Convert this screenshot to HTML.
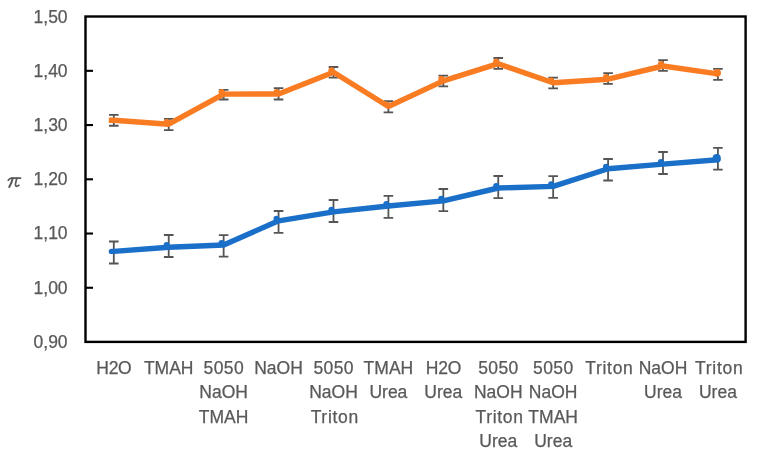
<!DOCTYPE html>
<html><head><meta charset="utf-8"><style>
html,body{margin:0;padding:0;background:#fff;}
body{width:758px;height:463px;overflow:hidden;}
svg{display:block;will-change:transform;}
.t{font-family:"Liberation Sans",sans-serif;font-size:17.5px;fill:#595959;stroke:#595959;stroke-width:0.25px;}
.pi{font-family:"Liberation Serif",serif;font-style:italic;font-size:25px;fill:#595959;}
</style></head><body>
<svg width="758" height="463" viewBox="0 0 758 463">
<rect width="758" height="463" fill="#fff"/>
<line x1="85.5" y1="70.83" x2="93" y2="70.83" stroke="#000" stroke-width="2.1"/>
<line x1="85.5" y1="125.07" x2="93" y2="125.07" stroke="#000" stroke-width="2.1"/>
<line x1="85.5" y1="179.30" x2="93" y2="179.30" stroke="#000" stroke-width="2.1"/>
<line x1="85.5" y1="233.53" x2="93" y2="233.53" stroke="#000" stroke-width="2.1"/>
<line x1="85.5" y1="287.77" x2="93" y2="287.77" stroke="#000" stroke-width="2.1"/>
<rect x="85.5" y="16.5" width="660.10" height="325.40" fill="none" stroke="#000" stroke-width="2.4"/>
<path d="M113.80 241.50V263.50M109.00 241.50H118.60M109.00 263.50H118.60M168.72 235.00V257.00M163.92 235.00H173.52M163.92 257.00H173.52M223.64 235.10V256.70M218.84 235.10H228.44M218.84 256.70H228.44M278.56 211.00V232.80M273.76 211.00H283.36M273.76 232.80H283.36M333.48 200.00V222.00M328.68 200.00H338.28M328.68 222.00H338.28M388.40 195.80V217.80M383.60 195.80H393.20M383.60 217.80H393.20M443.32 189.00V211.10M438.52 189.00H448.12M438.52 211.10H448.12M498.24 176.00V198.10M493.44 176.00H503.04M493.44 198.10H503.04M553.16 176.10V197.90M548.36 176.10H557.96M548.36 197.90H557.96M608.08 159.00V180.50M603.28 159.00H612.88M603.28 180.50H612.88M663.00 152.00V174.00M658.20 152.00H667.80M658.20 174.00H667.80M717.92 147.90V169.70M713.12 147.90H722.72M713.12 169.70H722.72" stroke="#555555" stroke-width="1.8" fill="none"/>
<path d="M111.40 251.40 L113.80 251.40 L168.72 247.20 L223.64 245.00 L278.56 220.80 L333.48 211.90 L388.40 206.00 L443.32 200.90 L498.24 188.00 L553.16 186.40 L608.08 168.80 L663.00 164.10 L717.92 159.80" stroke="#1A6FC8" stroke-width="5.4" fill="none" stroke-linejoin="round" stroke-linecap="round"/>
<circle cx="166.72" cy="245.20" r="3.1" fill="#1A6FC8"/>
<circle cx="221.64" cy="243.00" r="3.1" fill="#1A6FC8"/>
<circle cx="276.56" cy="218.80" r="3.1" fill="#1A6FC8"/>
<circle cx="331.48" cy="209.90" r="3.1" fill="#1A6FC8"/>
<circle cx="386.40" cy="204.00" r="3.1" fill="#1A6FC8"/>
<circle cx="441.32" cy="198.90" r="3.1" fill="#1A6FC8"/>
<circle cx="496.24" cy="186.00" r="3.1" fill="#1A6FC8"/>
<circle cx="551.16" cy="184.40" r="3.1" fill="#1A6FC8"/>
<circle cx="606.08" cy="166.80" r="3.1" fill="#1A6FC8"/>
<circle cx="661.00" cy="162.10" r="3.1" fill="#1A6FC8"/>
<circle cx="716.72" cy="158.20" r="4.1" fill="#1A6FC8"/>
<path d="M113.80 114.85V125.75M109.00 114.85H118.60M109.00 125.75H118.60M168.72 118.80V130.05M163.92 118.80H173.52M163.92 130.05H173.52M223.64 89.90V99.50M218.84 89.90H228.44M218.84 99.50H228.44M278.56 88.20V99.50M273.76 88.20H283.36M273.76 99.50H283.36M333.48 67.00V77.70M328.68 67.00H338.28M328.68 77.70H338.28M388.40 101.10V112.30M383.60 101.10H393.20M383.60 112.30H393.20M443.32 75.55V86.35M438.52 75.55H448.12M438.52 86.35H448.12M498.24 58.00V68.80M493.44 58.00H503.04M493.44 68.80H503.04M553.16 77.55V88.35M548.36 77.55H557.96M548.36 88.35H557.96M608.08 73.10V83.90M603.28 73.10H612.88M603.28 83.90H612.88M663.00 60.10V70.90M658.20 60.10H667.80M658.20 70.90H667.80M717.92 68.90V79.80M713.12 68.90H722.72M713.12 79.80H722.72" stroke="#555555" stroke-width="1.8" fill="none"/>
<path d="M108.80 120.20 L113.80 120.20 L168.72 124.20 L223.64 94.10 L278.56 94.00 L333.48 72.30 L388.40 106.50 L443.32 80.90 L498.24 63.70 L553.16 82.70 L608.08 79.20 L663.00 66.00 L717.92 73.80" stroke="#F97B22" stroke-width="5.4" fill="none" stroke-linejoin="round" stroke-linecap="butt"/>
<circle cx="166.72" cy="122.20" r="3.1" fill="#F97B22"/>
<circle cx="221.64" cy="92.10" r="3.1" fill="#F97B22"/>
<circle cx="276.56" cy="92.00" r="3.1" fill="#F97B22"/>
<circle cx="331.48" cy="70.30" r="3.1" fill="#F97B22"/>
<circle cx="386.40" cy="104.50" r="3.1" fill="#F97B22"/>
<circle cx="441.32" cy="78.90" r="3.1" fill="#F97B22"/>
<circle cx="496.24" cy="61.70" r="3.1" fill="#F97B22"/>
<circle cx="551.16" cy="80.70" r="3.1" fill="#F97B22"/>
<circle cx="606.08" cy="77.20" r="3.1" fill="#F97B22"/>
<circle cx="661.00" cy="64.00" r="3.1" fill="#F97B22"/>
<circle cx="717.12" cy="72.80" r="3.9" fill="#F97B22"/>
<text x="67.6" y="22.50" text-anchor="end" class="t">1,50</text>
<text x="67.6" y="76.73" text-anchor="end" class="t">1,40</text>
<text x="67.6" y="130.97" text-anchor="end" class="t">1,30</text>
<text x="67.6" y="185.20" text-anchor="end" class="t">1,20</text>
<text x="67.6" y="239.43" text-anchor="end" class="t">1,10</text>
<text x="67.6" y="293.67" text-anchor="end" class="t">1,00</text>
<text x="67.6" y="347.90" text-anchor="end" class="t">0,90</text>
<text x="113.90" y="374.40" text-anchor="middle" class="t" letter-spacing="-0.3">H2O</text>
<text x="168.72" y="374.40" text-anchor="middle" class="t">TMAH</text>
<text x="223.84" y="374.40" text-anchor="middle" class="t" letter-spacing="0.4">5050</text>
<text x="223.64" y="398.45" text-anchor="middle" class="t">NaOH</text>
<text x="223.64" y="422.50" text-anchor="middle" class="t">TMAH</text>
<text x="278.56" y="374.40" text-anchor="middle" class="t">NaOH</text>
<text x="333.68" y="374.40" text-anchor="middle" class="t" letter-spacing="0.4">5050</text>
<text x="333.48" y="398.45" text-anchor="middle" class="t">NaOH</text>
<text x="334.78" y="422.50" text-anchor="middle" class="t" letter-spacing="0.7">Triton</text>
<text x="388.40" y="374.40" text-anchor="middle" class="t">TMAH</text>
<text x="388.40" y="398.45" text-anchor="middle" class="t">Urea</text>
<text x="443.42" y="374.40" text-anchor="middle" class="t" letter-spacing="-0.3">H2O</text>
<text x="443.32" y="398.45" text-anchor="middle" class="t">Urea</text>
<text x="498.44" y="374.40" text-anchor="middle" class="t" letter-spacing="0.4">5050</text>
<text x="498.24" y="398.45" text-anchor="middle" class="t">NaOH</text>
<text x="499.54" y="422.50" text-anchor="middle" class="t" letter-spacing="0.7">Triton</text>
<text x="498.24" y="446.55" text-anchor="middle" class="t">Urea</text>
<text x="553.36" y="374.40" text-anchor="middle" class="t" letter-spacing="0.4">5050</text>
<text x="553.16" y="398.45" text-anchor="middle" class="t">NaOH</text>
<text x="553.16" y="422.50" text-anchor="middle" class="t">TMAH</text>
<text x="553.16" y="446.55" text-anchor="middle" class="t">Urea</text>
<text x="609.38" y="374.40" text-anchor="middle" class="t" letter-spacing="0.7">Triton</text>
<text x="663.00" y="374.40" text-anchor="middle" class="t">NaOH</text>
<text x="663.00" y="398.45" text-anchor="middle" class="t">Urea</text>
<text x="719.22" y="374.40" text-anchor="middle" class="t" letter-spacing="0.7">Triton</text>
<text x="717.92" y="398.45" text-anchor="middle" class="t">Urea</text>
<path d="M8.2 180.4 Q9.4 178.1 11.6 178.1 L20.7 178.1" stroke="#595959" stroke-width="1.6" fill="none" stroke-linecap="round"/>
<path d="M12.7 178.2 Q11.8 183 9.2 187" stroke="#595959" stroke-width="2.0" fill="none" stroke-linecap="round"/>
<path d="M16.9 178.2 Q15.3 183.2 15.5 185.3 Q16.1 187.3 18.9 185.3" stroke="#595959" stroke-width="1.75" fill="none" stroke-linecap="round"/>
</svg>
</body></html>
